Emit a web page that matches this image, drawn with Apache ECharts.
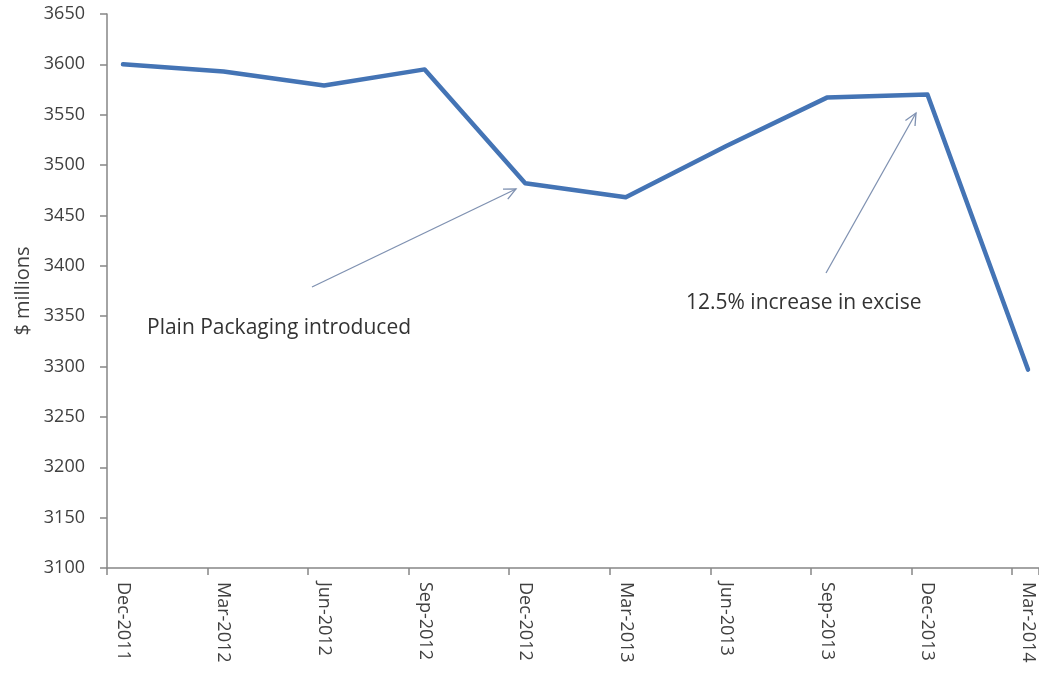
<!DOCTYPE html>
<html>
<head>
<meta charset="utf-8">
<script src="https://cdn.jsdelivr.net/npm/echarts@6/dist/echarts.min.js"></script>
<style>
html,body{margin:0;padding:0;background:#fff;}
#chart{width:1039px;height:675px;}
</style>
</head>
<body>
<div id="chart"></div>
<script>
var categories = ['Dec-2011','Mar-2012','Jun-2012','Sep-2012','Dec-2012','Mar-2013','Jun-2013','Sep-2013','Dec-2013','Mar-2014'];
var revenue = [3600, 3593, 3579, 3595, 3482, 3468, 3519, 3567, 3570, 3297];
var yMin = 3100, yMax = 3650, yStep = 50;
var yAxisTitle = '$ millions';
var note1 = 'Plain Packaging introduced';
var note2 = '12.5% increase in excise';

var FONT = '"Open Sans", sans-serif';
var TXT = '#404040';
var AXIS = '#868686';
var ARROW = '#7f91b1';

function arrow(x1, y1, x2, y2) {
  var dx = x2 - x1, dy = y2 - y1, len = Math.sqrt(dx*dx + dy*dy);
  var ux = -dx/len, uy = -dy/len, a = 25*Math.PI/180, L = 13;
  function rot(s) {
    var c = Math.cos(s*a), n = Math.sin(s*a);
    return [x2 + L*(ux*c - uy*n), y2 + L*(ux*n + uy*c)];
  }
  return [
    {type:'line', shape:{x1:x1,y1:y1,x2:x2,y2:y2}, style:{stroke:ARROW,lineWidth:1.3}, z:10},
    {type:'polyline', shape:{points:[rot(1),[x2,y2],rot(-1)]}, style:{stroke:ARROW,lineWidth:1.3,fill:null}, z:10}
  ];
}

var chart = echarts.init(document.getElementById('chart'), null, {renderer:'canvas'});
var option = {
  animation: false,
  backgroundColor: '#fff',
  grid: [
    {left:123, right:11, top:14, bottom:107},
    {left:107, right:0, top:14, bottom:107}
  ],
  xAxis: [
    {
      type:'category', gridIndex:0, data:categories, boundaryGap:false,
      axisLine:{show:false}, axisTick:{show:false}, splitLine:{show:false},
      axisLabel:{rotate:-90, margin:14, color:TXT, fontFamily:FONT, fontSize:18, interval:0}
    },
    {
      type:'value', gridIndex:1, min:0, max:9.268, interval:1,
      axisLine:{show:true, lineStyle:{color:AXIS, width:1.5}},
      axisTick:{show:true, inside:false, length:7, lineStyle:{color:AXIS, width:1.5}},
      axisLabel:{show:false}, splitLine:{show:false}
    }
  ],
  yAxis: [
    {
      type:'value', gridIndex:0, min:yMin, max:yMax, interval:yStep, offset:16,
      name:yAxisTitle, nameLocation:'middle', nameGap:68, nameRotate:90,
      nameTextStyle:{color:TXT, fontFamily:FONT, fontSize:20},
      axisLine:{show:true, lineStyle:{color:AXIS, width:1.5}},
      axisTick:{show:true, length:7, lineStyle:{color:AXIS, width:1.5}},
      axisLabel:{color:TXT, fontFamily:FONT, fontSize:18, margin:22, formatter:function(v){return String(v);}},
      splitLine:{show:false}
    },
    {type:'value', gridIndex:1, min:0, max:1, show:false}
  ],
  series: [{
    type:'line', xAxisIndex:0, yAxisIndex:0, data:revenue,
    symbol:'none', smooth:false,
    lineStyle:{color:'#4474b5', width:4.5, join:'round', cap:'round'}
  }],
  graphic: [].concat(
    arrow(312, 287, 516, 189),
    arrow(826, 273, 916, 113),
    [
      {type:'text', left:147, top:318, style:{text:note1, fill:'#333', font:'21px "Open Sans", sans-serif'}, z:10},
      {type:'text', left:686, top:293, style:{text:note2, fill:'#333', font:'21px "Open Sans", sans-serif'}, z:10}
    ]
  )
};
chart.setOption(option);
</script>
</body>
</html>
